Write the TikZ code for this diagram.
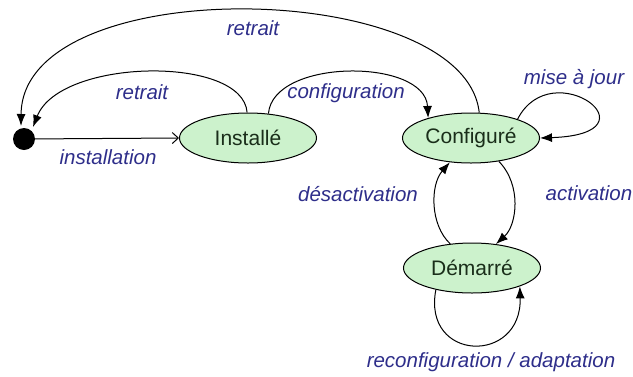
\documentclass[tikz,border=0pt]{standalone}
\usepackage{fontspec}
\setmainfont{Liberation Sans}
\usetikzlibrary{arrows.meta,shapes.geometric}
\definecolor{nodefill}{HTML}{CCF2CC}
\definecolor{lblcol}{HTML}{2E2E8A}
\definecolor{nodetext}{HTML}{1A2E1A}
\begin{document}
\begin{tikzpicture}[x=1pt,y=-1pt,
  state/.style={ellipse, draw, line width=1pt, fill=nodefill, minimum width=137pt, minimum height=50pt, inner sep=0pt, text=nodetext, font=\fontsize{21}{25}\selectfont},
  lbl/.style={text=lblcol, font=\fontsize{20.5}{24}\selectfont\itshape, inner sep=0pt},
  tr/.style={draw, line width=1pt, -{Latex[length=12pt,width=9pt]}}]
\useasboundingbox (0,0) rectangle (633,376);
\node[circle, fill=black, minimum size=22pt, inner sep=0pt] (init) at (24,139) {};
\node[state] (inst) at (248,138) {Installé};
\node[state] (conf) at (471,138) {Configuré};
\node[state] (dem) at (472,268) {Démarré};
\coordinate (in1) at (33,127);
\coordinate (in2) at (21,126);
% installation
\draw[line width=1pt, -{Straight Barb[length=6pt,width=11pt]}] (init) -- (inst.west);
\node[lbl] at (108,157) {installation};
% inner retrait
\draw[tr] (inst.92) .. controls (243,55) and (60,58) .. (in1);
\node[lbl] at (142,92) {retrait};
% outer retrait
\draw[tr] (conf.72) .. controls (465,-22) and (22,-30) .. (in2);
\node[lbl] at (253,28) {retrait};
% configuration
\draw[tr] (inst.50) .. controls (273,58) and (425,58) .. (conf.155);
\node[lbl] at (346,93) {configuration};
% mise a jour
\draw[tr] (conf.22) .. controls (552,52) and (662,134) .. (conf.east);
\node[lbl] at (574,79) {mise à jour};
% activation
\draw[tr] (conf.-40) .. controls (522,185) and (517,225) .. (dem.45);
\node[lbl] at (589,193) {activation};
% desactivation
\draw[tr] (dem.132) .. controls (430,225) and (430,185) .. (conf.-131);
\node[lbl] at (358,194) {désactivation};
% reconfiguration
\draw[tr] (dem.-149) .. controls (422,362) and (522,365) .. (dem.-21);
\node[lbl] at (491,362) {reconfiguration / adaptation};
\end{tikzpicture}
\end{document}
